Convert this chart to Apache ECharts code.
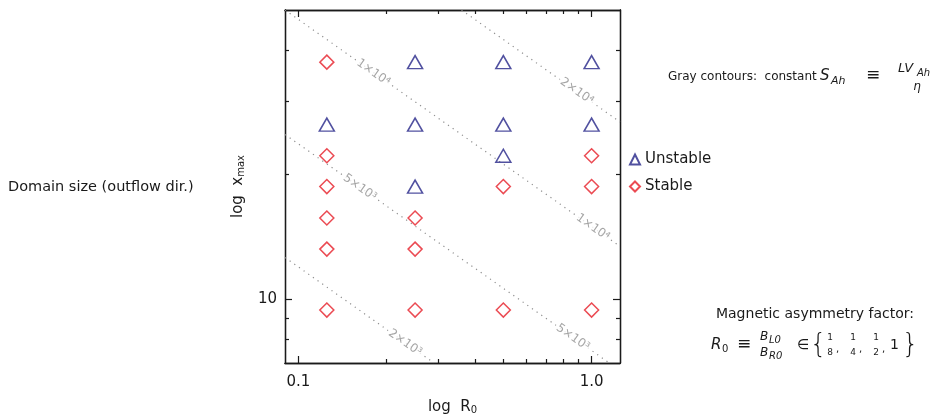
<!DOCTYPE html>
<html>
<head>
<meta charset="utf-8">
<script src="https://cdn.jsdelivr.net/npm/echarts@6/dist/echarts.min.js"></script>
<style>
  html, body { margin: 0; padding: 0; background: #fff; }
  #main { width: 936px; height: 416px; }
</style>
</head>
<body>
<div id="main"></div>
<script>
// runs: R0 (x) and domain size x_max (y)
const unstableR = [0.125, 0.25, 0.25, 0.25, 0.5, 0.5, 0.5, 1, 1];
const unstableX = [26.4, 37.4, 26.4, 18.7, 37.4, 26.4, 22.2, 37.4, 26.4];
const stableR = [0.125, 0.125, 0.125, 0.125, 0.125, 0.125, 0.25, 0.25, 0.25, 0.5, 0.5, 1, 1, 1];
const stableX = [37.4, 22.2, 18.7, 15.7, 13.2, 9.4, 15.7, 13.2, 9.4, 18.7, 9.4, 22.2, 18.7, 9.4];

// gray contours of constant S_Ah (end points)
const contourR = [[0.09, 0.29], [0.09, 1.15], [0.09, 1.25], [0.36, 1.25]];
const contourX = [[12.6, 7.0], [25.0, 7.0], [50.0, 13.4], [50.0, 26.8]];

// contour labels
const labelText = ['1×10⁴', '2×10⁴', '5×10³', '1×10⁴', '2×10³', '5×10³'];
const labelR = [0.18, 0.89, 0.162, 1.01, 0.231, 0.863];
const labelX = [35.3, 31.8, 18.6, 14.9, 7.84, 8.07];

// axis ticks
const xMajor = [0.1, 1.0];
const xMinor = [0.2, 0.3, 0.4, 0.5, 0.6, 0.7, 0.8, 0.9];
const yMajor = [10];
const yMinor = [8, 9, 20, 30, 40];

const FONT = 'DejaVu Sans';
const BLUE = '#262688';
const RED = '#e61e28';
const GRAY = '#8e8e8e';
const INK = '#1a1a1a';

const zip = (a, b) => a.map((v, i) => [v, b[i]]);

const chart = echarts.init(document.getElementById('main'));

const frame = { show: true, lineStyle: { color: INK, width: 1.3 } };

function xAx(pos, ticks, len, labels) {
    return {
        type: 'log', logBase: 10, min: 0.09, max: 1.25, position: pos,
        axisLine: frame,
        splitLine: { show: false },
        axisTick: { show: true, inside: true, length: len, customValues: ticks, lineStyle: { color: INK, width: 1.2 } },
        axisLabel: labels ? { show: true, customValues: xMajor, formatter: v => Number(v).toFixed(1), color: INK, fontSize: 15, fontFamily: FONT, margin: 12 } : { show: false }
    };
}
function yAx(pos, ticks, len, labels) {
    return {
        type: 'log', logBase: 10, min: 7, max: 50, position: pos,
        axisLine: frame,
        splitLine: { show: false },
        axisTick: { show: true, inside: true, length: len, customValues: ticks, lineStyle: { color: INK, width: 1.2 } },
        axisLabel: labels ? { show: true, customValues: yMajor, formatter: v => String(Math.round(v)), color: INK, fontSize: 15, fontFamily: FONT, margin: 8 } : { show: false }
    };
}

const nameStyle = {
    rich: {
        n: { fontSize: 15, fontFamily: FONT, color: INK, lineHeight: 16 },
        s: { fontSize: 10, fontFamily: FONT, color: INK, lineHeight: 6, verticalAlign: 'bottom' }
    }
};
const xAxes = [xAx('bottom', xMajor, 7, true), xAx('bottom', xMinor, 4), xAx('top', xMajor, 7), xAx('top', xMinor, 4)];
xAxes[0].name = '{n|log  R}{s|0}';
xAxes[0].nameLocation = 'middle';
xAxes[0].nameGap = 36;
xAxes[0].nameTextStyle = nameStyle;
const yAxes = [yAx('left', yMajor, 7, true), yAx('left', yMinor, 4), yAx('right', yMajor, 7), yAx('right', yMinor, 4)];
yAxes[0].name = '{n|log  x}{s|max}';
yAxes[0].nameLocation = 'middle';
yAxes[0].nameGap = 39;
yAxes[0].nameRotate = 90;
yAxes[0].nameTextStyle = nameStyle;

const series = [];
contourR.forEach((r, i) => {
    series.push({
        type: 'line', name: 'contour' + i, data: zip(r, contourX[i]),
        symbol: 'none', silent: true, z: 1, clip: true,
        lineStyle: { color: GRAY, width: 1.2, type: [1.2, 4.5] }
    });
});
series.push({
    type: 'scatter', name: 'labels', data: zip(labelR, labelX), symbolSize: 0, z: 3, silent: true,
    label: {
        show: true, position: 'inside', rotate: -35,
        formatter: p => labelText[p.dataIndex],
        color: GRAY, fontSize: 12, fontFamily: FONT,
        backgroundColor: '#fff', padding: [0, 2]
    }
});
series.push({
    type: 'scatter', name: 'Unstable', data: zip(unstableR, unstableX),
    symbol: 'triangle', symbolSize: [15, 13], z: 4,
    itemStyle: { color: 'rgba(255,255,255,0)', borderColor: BLUE, borderWidth: 1.5 }
});
series.push({
    type: 'scatter', name: 'Stable', data: zip(stableR, stableX),
    symbol: 'diamond', symbolSize: 14, z: 4,
    itemStyle: { color: 'rgba(255,255,255,0)', borderColor: RED, borderWidth: 1.5 }
});

function t(x, y, text, size, extra) {
    return {
        type: 'text', x: x, y: y,
        style: Object.assign({ text: text, fontSize: size, fontFamily: FONT, fill: INK, align: 'left', verticalAlign: 'middle' }, extra || {})
    };
}
const it = { fontStyle: 'italic' };
const mid = { align: 'center' };
const brace = { fontFamily: 'DejaVu Sans', fontWeight: 'lighter' };

const graphics = [
    t(8, 187, 'Domain size (outflow dir.)', 14.5),

    t(668, 77, 'Gray contours:  constant', 12),
    t(820, 76, 'S', 15, it),
    t(831, 81, 'Ah', 11, it),
    t(866, 76, '≡', 17),
    t(898, 69, 'LV', 13, it),
    t(917, 73, 'Ah', 10, it),
    t(917, 87, 'η', 12, Object.assign({}, it, mid)),

    t(815, 314, 'Magnetic asymmetry factor:', 14, mid),
    t(711, 345, 'R', 15, it),
    t(722, 349, '0', 10),
    t(737, 345, '≡', 17),
    t(760, 337, 'B', 12, it),
    t(769, 340, 'L0', 10, it),
    t(760, 353, 'B', 12, it),
    t(769, 356, 'R0', 10, it),
    t(797, 345, '∈', 14),
    t(810, 345, '{', 26, brace),
    t(830, 338, '1', 9, mid), t(830, 353, '8', 9, mid), t(836, 349, ',', 10),
    t(853, 338, '1', 9, mid), t(853, 353, '4', 9, mid), t(859, 349, ',', 10),
    t(876, 338, '1', 9, mid), t(876, 353, '2', 9, mid), t(882, 349, ',', 10),
    t(890, 345, '1', 14),
    t(902, 345, '}', 26, brace)
];

chart.setOption({
    animation: false,
    backgroundColor: '#fff',
    grid: { left: 285, top: 10, width: 335, height: 353, containLabel: false, outerBoundsMode: 'none' },
    xAxis: xAxes,
    yAxis: yAxes,
    legend: {
        data: ['Unstable', 'Stable'], orient: 'vertical', left: 624, top: 147,
        itemWidth: 10, itemHeight: 10, itemGap: 12,
        textStyle: { color: INK, fontSize: 15, fontFamily: FONT }
    },
    series: series,
    graphic: graphics
});
</script>
</body>
</html>
